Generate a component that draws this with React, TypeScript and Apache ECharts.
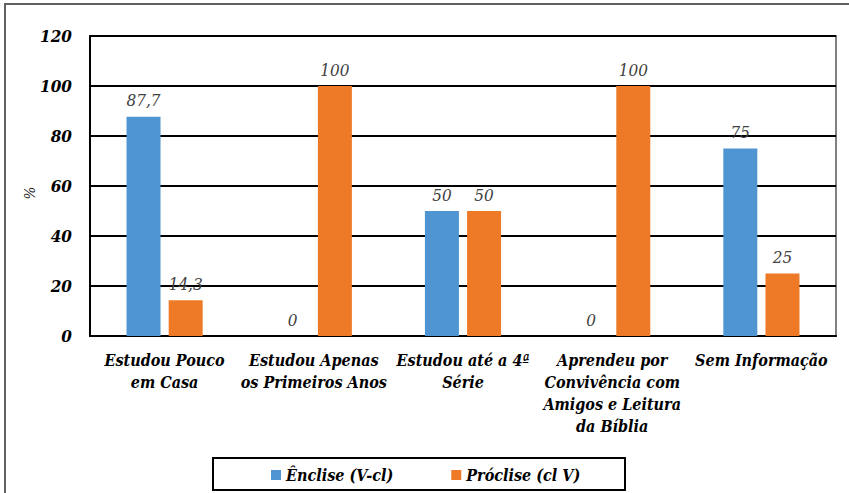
import React, { useEffect, useRef } from "react";
import * as echarts from "echarts";

const categories = [
  "Estudou Pouco\nem Casa",
  "Estudou Apenas\nos Primeiros Anos",
  "Estudou até a 4ª\nSérie",
  "Aprendeu por\nConvivência com\nAmigos e Leitura\nda Bíblia",
  "Sem Informação",
];
const enclise = [87.7, 0, 50, 0, 75];
const proclise = [14.3, 100, 50, 100, 25];
const seriesNames = ["Ênclise (V-cl)", "Próclise (cl V)"];
const yAxisTitle = "%";
const yMin = 0;
const yMax = 120;
const yInterval = 20;

const FONT = "DejaVu Serif Condensed, DejaVu Serif";

export default function App() {
  const ref = useRef<HTMLDivElement>(null);
  useEffect(() => {
    if (!ref.current) return;
    const chart = echarts.init(ref.current, null, { renderer: "svg" });
    const labelFmt = (p: any) => String(p.value).replace(".", ",");
    const dataLabel = {
      show: true,
      position: "top",
      distance: 8,
      color: "#404040",
      fontFamily: FONT,
      fontStyle: "italic",
      fontSize: 17,
      formatter: labelFmt,
    };
    chart.setOption({
      animation: false,
      backgroundColor: "#fff",
      textStyle: { fontFamily: FONT },
      graphic: [
        {
          type: "rect",
          shape: { x: 5, y: 4, width: 860, height: 500 },
          style: { fill: "none", stroke: "#606060", lineWidth: 2 },
          silent: true,
          z: -10,
        },
        {
          type: "rect",
          shape: { x: 213, y: 458, width: 412, height: 32 },
          style: { fill: "none", stroke: "#000", lineWidth: 2 },
          silent: true,
        },
        {
          type: "text",
          x: 30,
          y: 193,
          rotation: Math.PI / 2,
          style: {
            text: yAxisTitle,
            fill: "#222",
            font: "italic 15px DejaVu Serif Condensed",
            align: "center",
            verticalAlign: "middle",
          },
          silent: true,
        },
      ],
      grid: {
        left: 90,
        top: 36,
        right: 13,
        bottom: 157,
        show: true,
        borderColor: "#808080",
        borderWidth: 2,
        containLabel: false,
      },
      legend: {
        left: 266,
        top: 462,
        itemWidth: 10,
        itemHeight: 10,
        itemGap: 58,
        icon: "rect",
        textStyle: {
          fontFamily: FONT,
          fontStyle: "italic",
          fontWeight: "bold",
          fontSize: 16,
          color: "#000",
        },
        data: seriesNames,
      },
      xAxis: {
        type: "category",
        data: categories,
        axisLine: { show: true, lineStyle: { color: "#000", width: 2 } },
        axisTick: { show: false },
        axisLabel: {
          interval: 0,
          margin: 13,
          color: "#000",
          fontFamily: FONT,
          fontStyle: "italic",
          fontWeight: "bold",
          fontSize: 16,
          lineHeight: 22,
        },
      },
      yAxis: {
        type: "value",
        min: yMin,
        max: yMax,
        interval: yInterval,
        axisLine: { show: true, lineStyle: { color: "#000", width: 2 } },
        axisTick: { show: false },
        splitLine: { show: true, lineStyle: { color: "#000", width: 2 } },
        axisLabel: {
          margin: 18,
          color: "#000",
          fontFamily: FONT,
          fontStyle: "italic",
          fontWeight: "bold",
          fontSize: 17,
        },
      },
      series: [
        {
          name: seriesNames[0],
          type: "bar",
          data: enclise,
          barWidth: 34,
          barGap: "24%",
          itemStyle: { color: "#4F95D1" },
          label: dataLabel,
        },
        {
          name: seriesNames[1],
          type: "bar",
          data: proclise,
          barWidth: 34,
          itemStyle: { color: "#EE7A28" },
          label: dataLabel,
        },
      ],
    });
    return () => chart.dispose();
  }, []);
  return (
    <div
      ref={ref}
      style={{ position: "absolute", left: 0, top: 0, width: 849, height: 493 }}
    />
  );
}
